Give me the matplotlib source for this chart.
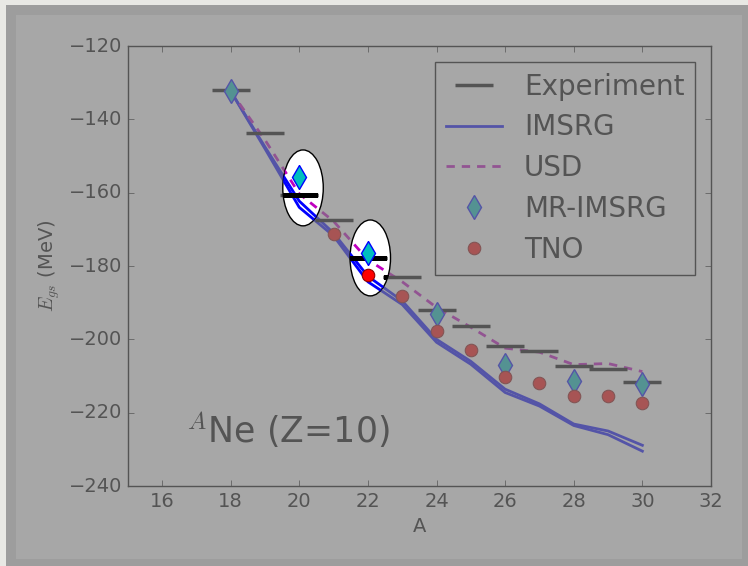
import matplotlib
matplotlib.use("Agg")
import matplotlib.pyplot as plt
from matplotlib.patches import Ellipse, Rectangle

plt.style.use("classic")
plt.rcParams["lines.scale_dashes"] = False

# Ground-state energies of neon isotopes (MeV)
A_exp = [18, 19, 20, 21, 22, 23, 24, 25, 26, 27, 28, 29, 30]
E_exp = [-132.1, -143.8, -160.6, -167.4, -177.8, -183.0, -192.0,
         -196.4, -201.8, -203.2, -207.3, -208.1, -211.6]

A_imsrg = [18, 19, 20, 21, 22, 23, 24, 25, 26, 27, 28, 29, 30]
E_imsrg_a = [-132.3, -147.5, -162.3, -171.0, -182.8, -189.5, -200.0,
             -206.0, -213.6, -217.6, -223.1, -225.0, -228.9]
E_imsrg_b = [-132.3, -148.0, -164.0, -171.8, -184.3, -190.5, -200.8,
             -206.8, -214.5, -218.2, -223.5, -226.0, -230.5]

A_usd = [18, 19, 20, 21, 22, 23, 24, 25, 26, 27, 28, 29, 30]
E_usd = [-132.3, -145.6, -160.3, -167.8, -178.3, -184.3, -191.3,
         -196.7, -202.4, -203.5, -206.9, -206.6, -208.8]

A_mr = [18, 20, 22, 24, 26, 28, 30]
E_mr = [-132.3, -155.8, -176.4, -193.1, -207.0, -211.4, -212.2]

A_tno = [21, 22, 23, 24, 25, 26, 27, 28, 29, 30]
E_tno = [-171.4, -182.4, -188.2, -197.7, -202.9, -210.2, -212.0,
         -215.4, -215.4, -217.3]

x_ticks = [16, 18, 20, 22, 24, 26, 28, 30, 32]
y_ticks = [-240, -220, -200, -180, -160, -140, -120]

W, H = 748, 566
fig = plt.figure(figsize=(W / 100, H / 100), dpi=100, facecolor="#e8e8e4")


def frac_box(x0, y0, x1, y1):
    """Pixel box (origin top-left) -> figure-fraction (xy, w, h)."""
    return (x0 / W, 1 - y1 / H), (x1 - x0) / W, (y1 - y0) / H


# page frame behind the plot
for box, col in [((6, 5, 748, 566), "#e2e2e0"), ((16, 15, 742, 559), "white")]:
    xy, w, h = frac_box(*box)
    fig.add_artist(Rectangle(xy, w, h, transform=fig.transFigure,
                             facecolor=col, edgecolor="none", zorder=-10))

ax_rect = [127.7 / W, 1 - 486 / H, (711 - 127.7) / W, (486 - 46) / H]
ax = fig.add_axes(ax_rect)


def draw_series(axis, clip=None):
    arts = {}
    arts["IMSRG"] = axis.plot(A_imsrg, E_imsrg_a, color="b", lw=2)[0]
    arts["IMSRG2"] = axis.plot(A_imsrg, E_imsrg_b, color="b", lw=2)[0]
    arts["USD"] = axis.plot(A_usd, E_usd, color="m", lw=2,
                            ls=(0, (6, 5)))[0]
    arts["Experiment"] = axis.plot(A_exp, E_exp, ls="none", marker="_",
                                   ms=27, mew=2.5, color="k")[0]
    arts["MR-IMSRG"] = axis.plot(A_mr, E_mr, ls="none", marker="d", ms=12,
                                 mfc="c", mec="b", mew=1)[0]
    arts["TNO"] = axis.plot(A_tno, E_tno, ls="none", marker="o", ms=9,
                            mfc="r", mec="#900000", mew=0.8)[0]
    if clip is not None:
        for a in arts.values():
            a.set_clip_path(clip)
    return arts


arts = draw_series(ax)
ax.set_xlim(15, 32)
ax.set_ylim(-240, -120)
ax.set_xticks(x_ticks)
ax.set_yticks(y_ticks)
ax.tick_params(labelsize=14)
ax.set_xlabel("A", fontsize=14)
ax.set_ylabel("$E_{gs}$ (MeV)", fontsize=14)

order = ["Experiment", "IMSRG", "USD", "MR-IMSRG", "TNO"]
ax.legend([arts[k] for k in order], order, loc="upper right",
          numpoints=1, fontsize=20, labelspacing=0.46, borderaxespad=0.56)

ax.text(16.70, -228.3, "$^{A}$Ne (Z=10)", fontsize=25, color="k",
        ha="left", va="baseline")

# dimming veil over the whole page
xy, w, h = frac_box(6, 5, 748, 566)
fig.add_artist(Rectangle(xy, w, h, transform=fig.transFigure,
                         facecolor=(125 / 255,) * 3, alpha=0.68,
                         edgecolor="none", zorder=5))

# highlighted nuclei 20Ne and 22Ne
ax_hi = fig.add_axes(ax_rect, zorder=10)
ax_hi.patch.set_visible(False)
ax_hi.set_axis_off()
for center in [(20.11, -158.7), (22.07, -177.8)]:
    ell = Ellipse(center, 1.18, 20.7, facecolor="white", edgecolor="k",
                  lw=1.0, zorder=0)
    ax_hi.add_patch(ell)
    draw_series(ax_hi, clip=ell)
ax_hi.set_xlim(15, 32)
ax_hi.set_ylim(-240, -120)

fig.savefig("out.png", dpi=100, facecolor=fig.get_facecolor())
